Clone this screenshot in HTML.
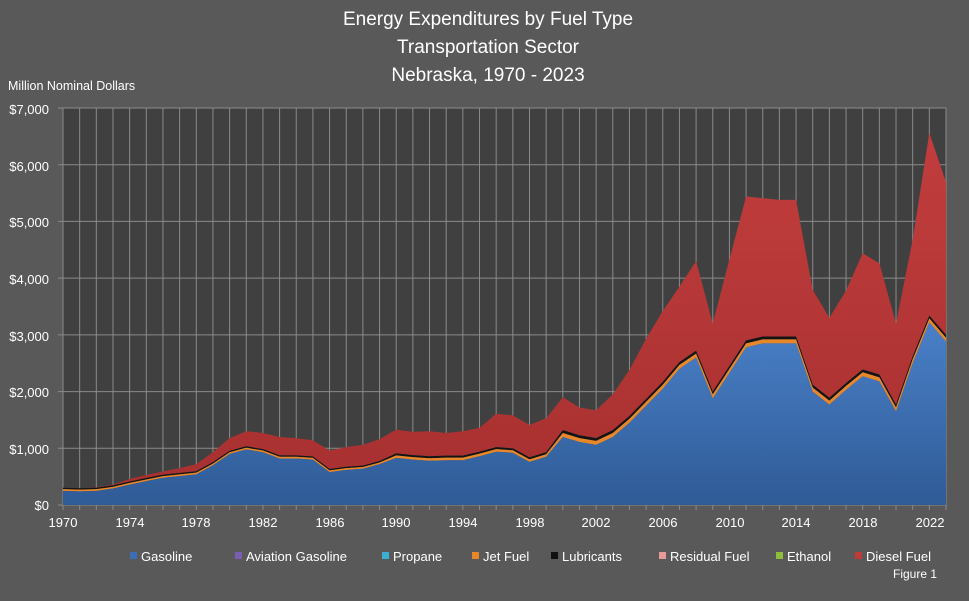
<!DOCTYPE html>
<html><head><meta charset="utf-8"><style>
body{margin:0;background:#595959;}
svg{display:block;font-family:"Liberation Sans",sans-serif;}
</style></head><body>
<svg id="s" width="969" height="601" viewBox="0 0 969 601">
<defs>
<linearGradient id="gb" x1="0" y1="0" x2="0" y2="1"><stop offset="0" stop-color="#4a80c8"/><stop offset="1" stop-color="#2f5b96"/></linearGradient>
<linearGradient id="gr" x1="0" y1="0" x2="0" y2="1"><stop offset="0" stop-color="#c23d3d"/><stop offset="1" stop-color="#a83030"/></linearGradient>
</defs>
<rect width="969" height="601" fill="#595959"/>
<rect x="63" y="108" width="883" height="397" fill="#404040"/>
<g id="grid" stroke="#8a8a8a" stroke-width="1"></g>
<g id="areas"></g>
<g fill="#fff" font-size="19" text-anchor="middle">
<text x="488" y="25">Energy Expenditures by Fuel Type</text>
<text x="488" y="53">Transportation Sector</text>
<text x="488" y="81">Nebraska, 1970 - 2023</text>
</g>
<text x="8" y="90" fill="#fff" font-size="12.5">Million Nominal Dollars</text>
<g fill="#fff" font-size="13" text-anchor="end">
<text x="49" y="114">$7,000</text><text x="49" y="171">$6,000</text><text x="49" y="227">$5,000</text>
<text x="49" y="284">$4,000</text><text x="49" y="341">$3,000</text><text x="49" y="397">$2,000</text>
<text x="49" y="454">$1,000</text><text x="49" y="510">$0</text>
</g>
<g fill="#fff" font-size="13" text-anchor="middle">
<text x="63" y="527">1970</text><text x="130" y="527">1974</text><text x="196" y="527">1978</text>
<text x="263" y="527">1982</text><text x="330" y="527">1986</text><text x="396" y="527">1990</text>
<text x="463" y="527">1994</text><text x="530" y="527">1998</text><text x="596" y="527">2002</text>
<text x="663" y="527">2006</text><text x="730" y="527">2010</text><text x="796" y="527">2014</text>
<text x="863" y="527">2018</text><text x="930" y="527">2022</text>
</g>
<g font-size="13" fill="#fff">
<rect x="130" y="552" width="7" height="7" fill="#3a6eb5"/><text x="141" y="561">Gasoline</text>
<rect x="235" y="552" width="7" height="7" fill="#7a5fb0"/><text x="246" y="561">Aviation Gasoline</text>
<rect x="382" y="552" width="7" height="7" fill="#3cb0d0"/><text x="393" y="561">Propane</text>
<rect x="472" y="552" width="7" height="7" fill="#e8872a"/><text x="483" y="561">Jet Fuel</text>
<rect x="551" y="552" width="7" height="7" fill="#111"/><text x="562" y="561">Lubricants</text>
<rect x="659" y="552" width="7" height="7" fill="#e89a9a"/><text x="670" y="561">Residual Fuel</text>
<rect x="776" y="552" width="7" height="7" fill="#8fbf3a"/><text x="787" y="561">Ethanol</text>
<rect x="855" y="552" width="7" height="7" fill="#c03a3a"/><text x="826" y="561" dx="40">Diesel Fuel</text>
</g>
<text x="893" y="578" fill="#fff" font-size="12">Figure 1</text>
</svg>
<script>
var gas=[250,240,250,290,360,420,480,510,540,700,900,980,930,820,820,800,580,620,640,720,830,800,780,790,790,860,940,920,760,850,1200,1110,1060,1200,1450,1750,2050,2400,2600,1880,2330,2780,2850,2850,2850,2000,1770,2030,2270,2180,1650,2500,3220,2880];
var tot=[280,290,310,360,460,530,590,650,720,930,1180,1300,1270,1200,1180,1140,960,1020,1060,1160,1330,1290,1300,1270,1300,1360,1610,1580,1410,1530,1900,1720,1670,1950,2380,2930,3420,3850,4300,3200,4330,5440,5410,5380,5380,3790,3300,3780,4440,4260,3200,4680,6560,5690];
var X=function(i){return 63+i*883/53},Y=function(v){return 505-v*397/7000};
var s='';
for(var i=0;i<=53;i++){var x=63+i*883/53;s+='<line x1="'+x+'" y1="108" x2="'+x+'" y2="510"/>';}
for(var k=0;k<=7;k++){var y=Y(k*1000);s+='<line x1="58" y1="'+y+'" x2="946" y2="'+y+'"/>';}
document.getElementById('grid').innerHTML=s;
function band(lo,hi,fill){var p=[];for(var i=0;i<=53;i++)p.push(X(i)+','+Y(hi[i]));for(var i=53;i>=0;i--)p.push(X(i)+','+Y(lo[i]));return '<polygon points="'+p.join(' ')+'" fill="'+fill+'"/>';}
var zero=gas.map(function(){return 0});
var jet=gas.map(function(v,i){return v+(i<20?30:(i<30?45:70))});
var lub=jet.map(function(v,i){return v+(i<20?25:(i<30?35:50))});
var a='';
a+=band(lub,tot,'url(#gr)');
a+=band(jet,lub,'#141414');
a+=band(gas,jet,'#e8872a');
a+=band(zero,gas,'url(#gb)');
document.getElementById('areas').innerHTML=a;
</script>
</body></html>
